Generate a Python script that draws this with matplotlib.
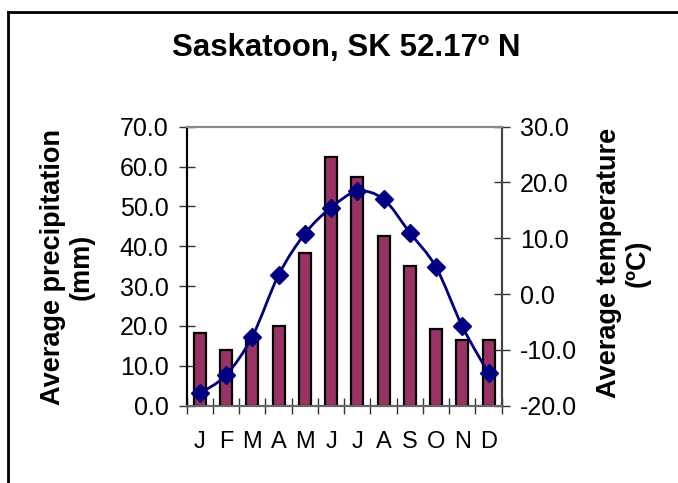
import matplotlib
matplotlib.use("Agg")
import matplotlib.pyplot as plt
from matplotlib.path import Path
from matplotlib.patches import PathPatch
from matplotlib.lines import Line2D
from matplotlib.ticker import FormatStrFormatter, FixedLocator

plt.rcParams["font.family"] = ["Liberation Sans", "DejaVu Sans"]

months = ["J", "F", "M", "A", "M", "J", "J", "A", "S", "O", "N", "D"]
precip = [18.2, 14.1, 17.3, 20.0, 38.2, 62.5, 57.3, 42.7, 35.0, 19.3, 16.6, 16.6]
temp = [-17.8, -14.5, -7.6, 3.4, 10.8, 15.5, 18.4, 17.0, 11.0, 4.8, -5.8, -14.2]

fig = plt.figure(figsize=(6.78, 4.83), dpi=100)
ax = fig.add_axes([0.2753, 0.160, 0.4647, 0.5777])
ax2 = ax.twinx()

x = list(range(len(months)))
ax.bar(x, precip, width=0.46, color="#993366", edgecolor="black", linewidth=1.6, zorder=2)
ax.set_xlim(-0.5, 11.5)
ax.set_ylim(0, 70)
ax.set_yticks(range(0, 71, 10))
ax.yaxis.set_major_formatter(FormatStrFormatter("%.1f"))

# category boundary ticks, labels at centres
ax.xaxis.set_major_locator(FixedLocator([i - 0.5 for i in range(13)]))
ax.xaxis.set_minor_locator(FixedLocator(x))
ax.set_xticklabels([])
ax.set_xticklabels(months, minor=True)
ax.tick_params(axis="x", which="minor", length=0, pad=18, labelsize=17)
ax.tick_params(axis="x", which="major", direction="inout", length=11, width=1, color="#333333")
ax.tick_params(axis="y", direction="inout", length=12, width=1, labelsize=18, pad=7, color="#333333")

ax2.set_ylim(-20, 30)
ax2.set_yticks(range(-20, 31, 10))
ax2.yaxis.set_major_formatter(FormatStrFormatter("%.1f"))
ax2.tick_params(axis="y", direction="inout", length=12, width=1, labelsize=18, pad=7, color="#333333")

# smooth line through the monthly temperatures
verts = [(x[0], temp[0])]
codes = [Path.MOVETO]
n = len(x)
for i in range(n - 1):
    p0 = (x[max(i - 1, 0)], temp[max(i - 1, 0)])
    p1 = (x[i], temp[i])
    p2 = (x[i + 1], temp[i + 1])
    p3 = (x[min(i + 2, n - 1)], temp[min(i + 2, n - 1)])
    c1 = (p1[0] + (p2[0] - p0[0]) / 6, p1[1] + (p2[1] - p0[1]) / 6)
    c2 = (p2[0] - (p3[0] - p1[0]) / 6, p2[1] - (p3[1] - p1[1]) / 6)
    verts += [c1, c2, p2]
    codes += [Path.CURVE4] * 3
ax2.add_patch(PathPatch(Path(verts, codes), facecolor="none", edgecolor="#000080", linewidth=2, zorder=3))
ax2.plot(x, temp, linestyle="none", marker="D", markersize=9.5, color="#000080", zorder=4)

for a in (ax, ax2):
    a.spines["top"].set_color("#888888")
    a.spines["left"].set_color("black")
    a.spines["right"].set_color("#444444")
    a.spines["bottom"].set_color("#666666")
    for s in a.spines.values():
        s.set_linewidth(1.5)

fig.text(0.511, 0.900, "Saskatoon, SK 52.17º N", ha="center", va="center", fontsize=22.5, fontweight="bold")
fig.text(0.099, 0.448, "Average precipitation\n(mm)", ha="center", va="center", rotation=90,
         fontsize=19.5, fontweight="bold", linespacing=1.15)
fig.text(0.919, 0.455, "Average temperature\n(ºC)", ha="center", va="center", rotation=90,
         fontsize=19.5, fontweight="bold", linespacing=1.15)

# chart frame (top and left edges visible)
fig.add_artist(Line2D([8 / 678, 1], [1 - 12 / 483, 1 - 12 / 483], color="black", linewidth=2))
fig.add_artist(Line2D([8 / 678, 8 / 678], [0, 1 - 12 / 483], color="black", linewidth=2))

fig.savefig("out.png", dpi=100)
